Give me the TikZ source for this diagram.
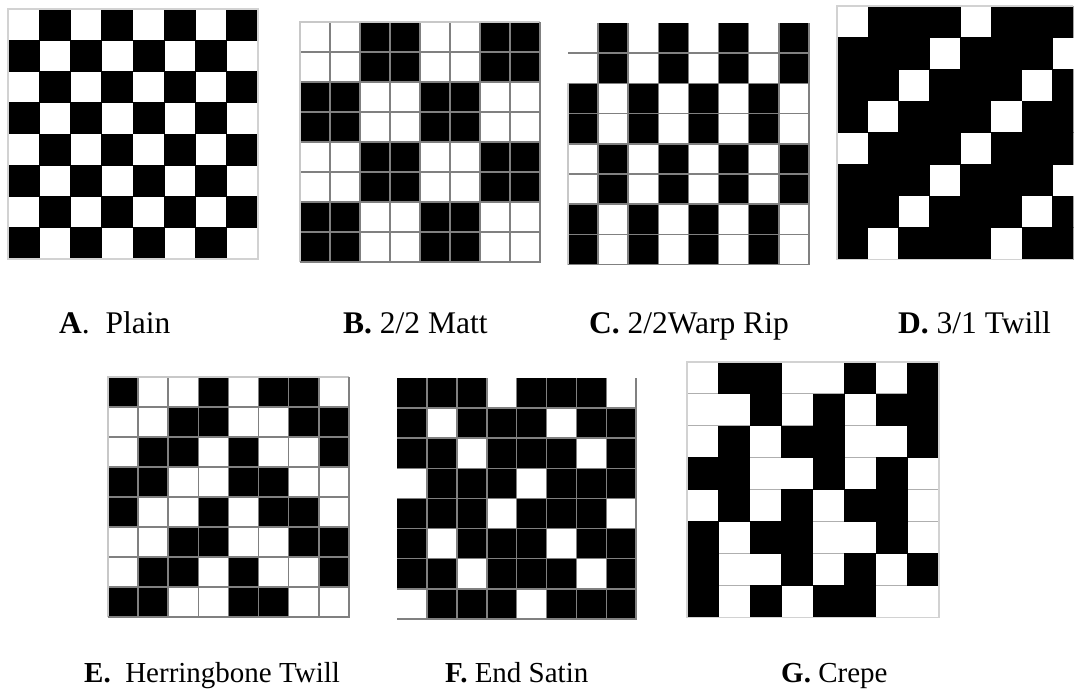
\documentclass[tikz,border=0pt]{standalone}
\usepackage{fontspec}
\setmainfont{Liberation Serif}
\definecolor{gridc}{RGB}{128,128,128}
\definecolor{gridlight}{RGB}{200,200,200}
\definecolor{edgec}{RGB}{210,210,210}
\definecolor{crepec}{RGB}{175,175,175}
% fill the black cells of an 8x8 weave: x0, y0, cell width, cell height, rows
\newcommand{\wvcells}[5]{%
  \foreach \rowlist [count=\rowi from 0] in {#5} {
    \foreach \val [count=\coli from 0] in \rowlist {
      \ifnum\val=1
        \fill[black] ({#1+\coli*#3-0.3},{#2+\rowi*#4-0.3}) rectangle ++({#3+0.6},{#4+0.6});
      \fi
    }
  }%
}
% inner lines of an 8x8 grid: x0, y0, cell width, cell height, style
\newcommand{\wvlines}[5]{%
  \foreach \li in {1,...,7} {
    \draw[#5] ({#1+\li*#3},#2) -- ++(0,{8*#4});
    \draw[#5] (#1,{#2+\li*#4}) -- ++({8*#3},0);
  }%
}
\begin{document}
\begin{tikzpicture}[x=1pt,y=-1pt,
  gridline/.style={draw=gridc,line width=1.6pt},
  lightline/.style={draw=gridlight,line width=1.4pt},
  edgeline/.style={draw=edgec,line width=1.4pt},
  crepeline/.style={draw=crepec,line width=1.1pt},
  lblA/.style={anchor=base west,inner sep=0pt,font=\fontsize{31.5}{36}\selectfont},
  lblB/.style={anchor=base west,inner sep=0pt,font=\fontsize{29}{34}\selectfont}]
\useasboundingbox[fill=white] (0,0) rectangle (1076,694);

% ---------- A: Plain ----------
\wvcells{8}{9}{31.25}{31.25}{{0,1,0,1,0,1,0,1},{1,0,1,0,1,0,1,0},{0,1,0,1,0,1,0,1},{1,0,1,0,1,0,1,0},{0,1,0,1,0,1,0,1},{1,0,1,0,1,0,1,0},{0,1,0,1,0,1,0,1},{1,0,1,0,1,0,1,0}}
\draw[edgeline] (8,9) rectangle (258,259);

% ---------- B: 2/2 Matt ----------
\wvcells{300}{22}{30}{30}{{0,0,1,1,0,0,1,1},{0,0,1,1,0,0,1,1},{1,1,0,0,1,1,0,0},{1,1,0,0,1,1,0,0},{0,0,1,1,0,0,1,1},{0,0,1,1,0,0,1,1},{1,1,0,0,1,1,0,0},{1,1,0,0,1,1,0,0}}
\wvlines{300}{22}{30}{30}{gridline}
\draw[lightline] (300,262) -- (300,22) -- (540,22);
\draw[gridline] (300,262) -- (540,262) -- (540,22);

% ---------- C: 2/2 Warp Rip ----------
\wvcells{568}{23}{30.1}{30.2}{{0,1,0,1,0,1,0,1},{0,1,0,1,0,1,0,1},{1,0,1,0,1,0,1,0},{1,0,1,0,1,0,1,0},{0,1,0,1,0,1,0,1},{0,1,0,1,0,1,0,1},{1,0,1,0,1,0,1,0},{1,0,1,0,1,0,1,0}}
\wvlines{568}{23}{30.1}{30.2}{gridline}
\draw[lightline] (568,83.4) -- (568,264.6);
\draw[gridline] (568,264.6) -- (808.8,264.6) -- (808.8,23);

% ---------- D: 3/1 Twill ----------
\begin{scope}
  \clip (837,6) rectangle (1073.3,259.4);
  \wvcells{837}{6}{30.8}{31.67}{{0,1,1,1,0,1,1,1},{1,1,1,0,1,1,1,0},{1,1,0,1,1,1,0,1},{1,0,1,1,1,0,1,1},{0,1,1,1,0,1,1,1},{1,1,1,0,1,1,1,0},{1,1,0,1,1,1,0,1},{1,0,1,1,1,0,1,1}}
\end{scope}
\draw[edgeline] (1073.3,6) -- (837,6) -- (837,259.4) -- (1073.3,259.4);

% ---------- E: Herringbone Twill ----------
\wvcells{108}{377}{30.1}{30}{{1,0,0,1,0,1,1,0},{0,0,1,1,0,0,1,1},{0,1,1,0,1,0,0,1},{1,1,0,0,1,1,0,0},{1,0,0,1,0,1,1,0},{0,0,1,1,0,0,1,1},{0,1,1,0,1,0,0,1},{1,1,0,0,1,1,0,0}}
\wvlines{108}{377}{30.1}{30}{gridline}
\draw[lightline] (108,617) -- (108,377) -- (348.8,377);
\draw[gridline] (108,617) -- (348.8,617) -- (348.8,377);

% ---------- F: End Satin ----------
\wvcells{397}{378}{29.9}{30.1}{{1,1,1,0,1,1,1,0},{1,0,1,1,1,0,1,1},{1,1,0,1,1,1,0,1},{0,1,1,1,0,1,1,1},{1,1,1,0,1,1,1,0},{1,0,1,1,1,0,1,1},{1,1,0,1,1,1,0,1},{0,1,1,1,0,1,1,1}}
\wvlines{397}{378}{29.9}{30.1}{gridline}
\draw[gridline] (397,618.8) -- (636.2,618.8) -- (636.2,378);

% ---------- G: Crepe ----------
\foreach \li in {1,...,7} {
  \draw[crepeline] (687,{362+\li*31.9}) -- ++(252,0);
}
\wvcells{687}{362}{31.5}{31.9}{{0,1,1,0,0,1,0,1},{0,0,1,0,1,0,1,1},{0,1,0,1,1,0,0,1},{1,1,0,0,1,0,1,0},{0,1,0,1,0,1,1,0},{1,0,1,1,0,0,1,0},{1,0,0,1,0,1,0,1},{1,0,1,0,1,1,0,0}}
\draw[edgeline] (687,362) rectangle (939,617.2);

% ---------- labels ----------
\node[lblA] (la) at (59,333) {\textbf{A}.\hspace{0.5em}Plain};
\node[lblA] (lb) at (343,333) {\textbf{B.} 2/2 Matt};
\node[lblA] (lc) at (589,333) {\textbf{C.} 2/2Warp Rip};
\node[lblA] (ld) at (898,333) {\textbf{D.} 3/1 Twill};
\node[lblB] (le) at (84,682) {\textbf{E.}\hspace{0.5em}Herringbone Twill};
\node[lblB] (lf) at (445,682) {\textbf{F.} End Satin};
\node[lblB] (lg) at (781,682) {\textbf{G.} Crepe};
\end{tikzpicture}
\end{document}
